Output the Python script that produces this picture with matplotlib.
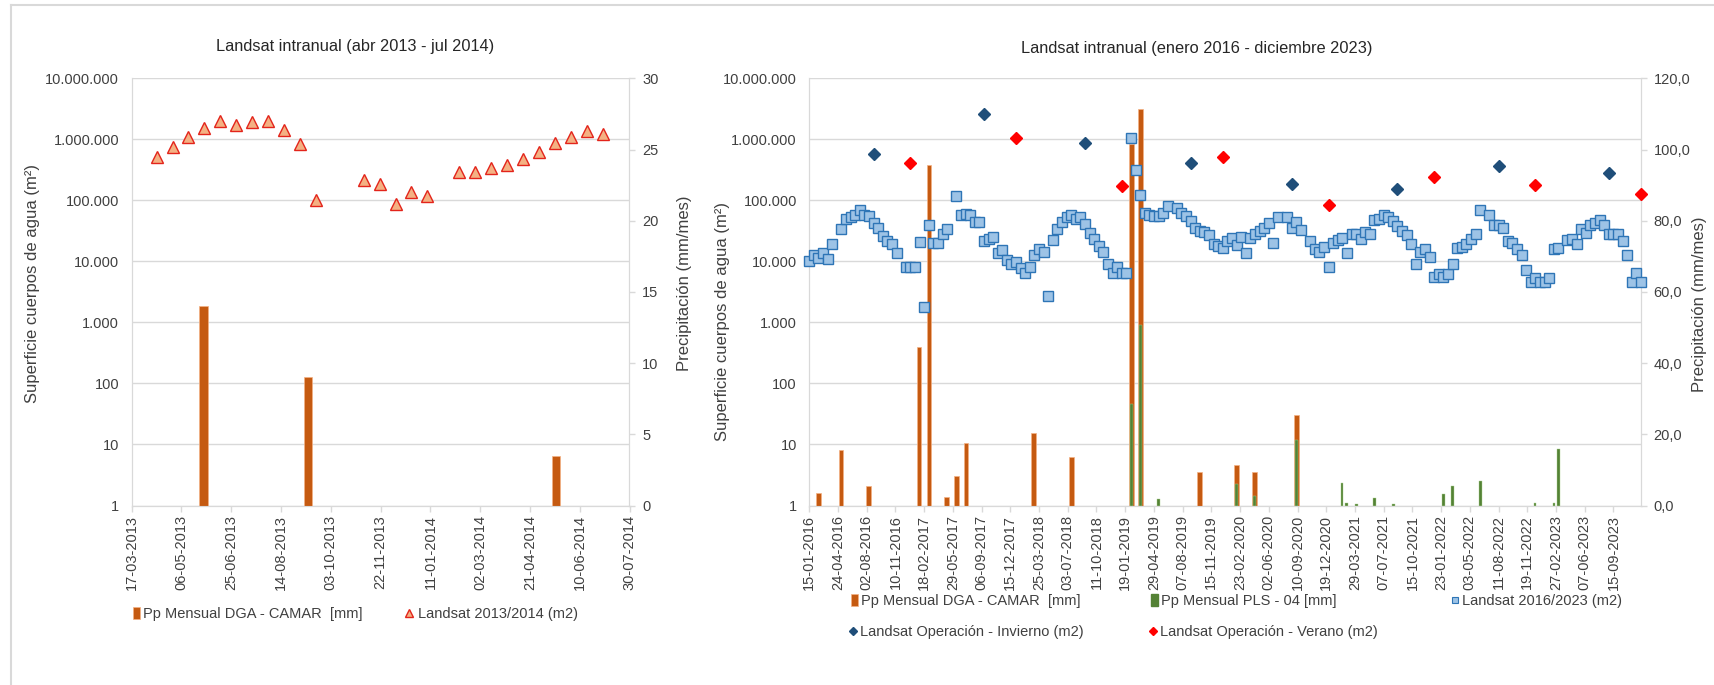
import matplotlib
matplotlib.use("Agg")
import matplotlib.pyplot as plt
import matplotlib.dates as mdates
from matplotlib.patches import Patch
from matplotlib.lines import Line2D
from matplotlib.ticker import FixedLocator, FuncFormatter, NullLocator
import pandas as pd

plt.rcParams['font.family'] = ['Liberation Sans', 'DejaVu Sans']

# ---------------- data : left chart (abr 2013 - jul 2014) ----------------
land13_dates = ['2013-04-11', '2013-04-27', '2013-05-13', '2013-05-29', '2013-06-14', '2013-06-30',
                '2013-07-16', '2013-08-01', '2013-08-17', '2013-09-02', '2013-09-18', '2013-11-05',
                '2013-11-21', '2013-12-07', '2013-12-23', '2014-01-08', '2014-02-09', '2014-02-25',
                '2014-03-13', '2014-03-29', '2014-04-14', '2014-04-30', '2014-05-16', '2014-06-01',
                '2014-06-17', '2014-07-03']
land13_vals = [508000, 736000, 1080000, 1550000, 2000000, 1710000, 1920000, 1960000, 1400000, 828000,
               103000, 212000, 182000, 86700, 136000, 119000, 292000, 292000, 345000, 375000,
               475000, 631000, 871000, 1080000, 1350000, 1240000]
pp13_dates = ['2013-05-28', '2013-09-10', '2014-05-17']
pp13_vals = [14.0, 9.0, 3.5]

# ---------------- data : right chart (enero 2016 - diciembre 2023) ----------------
land_dates = [
    '2016-01-15', '2016-01-31', '2016-02-16', '2016-03-03', '2016-03-19', '2016-04-04', '2016-05-06',
    '2016-05-22', '2016-06-07', '2016-06-23', '2016-07-09', '2016-07-25', '2016-08-10', '2016-08-26',
    '2016-09-11', '2016-09-27', '2016-10-13', '2016-10-29', '2016-11-14', '2016-12-16', '2017-01-01',
    '2017-01-17', '2017-02-02', '2017-02-18', '2017-03-06', '2017-03-22', '2017-04-07', '2017-04-23',
    '2017-05-09', '2017-06-10', '2017-06-26', '2017-07-12', '2017-07-28', '2017-08-13', '2017-08-29',
    '2017-09-14', '2017-09-30', '2017-10-16', '2017-11-01', '2017-11-17', '2017-12-03', '2017-12-19',
    '2018-01-04', '2018-01-20', '2018-02-05', '2018-02-21', '2018-03-09', '2018-03-25', '2018-04-10',
    '2018-04-26', '2018-05-12', '2018-05-28', '2018-06-13', '2018-06-29', '2018-07-15', '2018-07-31',
    '2018-08-16', '2018-09-01', '2018-09-17', '2018-10-03', '2018-10-19', '2018-11-04', '2018-11-20',
    '2018-12-06', '2018-12-22', '2019-01-07', '2019-01-23', '2019-02-08', '2019-02-24', '2019-03-12',
    '2019-03-28', '2019-04-13', '2019-04-29', '2019-05-15', '2019-05-31', '2019-06-16', '2019-07-18',
    '2019-08-03', '2019-08-19', '2019-09-04', '2019-09-20', '2019-10-06', '2019-10-22', '2019-11-07',
    '2019-11-23', '2019-12-09', '2019-12-25', '2020-01-10', '2020-01-26', '2020-02-11', '2020-02-27',
    '2020-03-14', '2020-03-30', '2020-04-15', '2020-05-01', '2020-05-17', '2020-06-02', '2020-06-18',
    '2020-07-04', '2020-08-05', '2020-08-21', '2020-09-06', '2020-09-22', '2020-10-24', '2020-11-09',
    '2020-11-25', '2020-12-11', '2020-12-27', '2021-01-12', '2021-01-28', '2021-02-13', '2021-03-01',
    '2021-03-17', '2021-04-02', '2021-04-18', '2021-05-04', '2021-05-20', '2021-06-05', '2021-06-21',
    '2021-07-07', '2021-07-23', '2021-08-08', '2021-08-24', '2021-09-09', '2021-09-25', '2021-10-11',
    '2021-10-27', '2021-11-12', '2021-11-28', '2021-12-14', '2021-12-30', '2022-01-15', '2022-01-31',
    '2022-02-16', '2022-03-04', '2022-03-20', '2022-04-05', '2022-04-21', '2022-05-07', '2022-05-23',
    '2022-06-08', '2022-07-10', '2022-07-26', '2022-08-11', '2022-08-27', '2022-09-12', '2022-09-28',
    '2022-10-14', '2022-10-30', '2022-11-15', '2022-12-01', '2022-12-17', '2023-01-02', '2023-01-18',
    '2023-02-03', '2023-02-19', '2023-03-07', '2023-04-08', '2023-04-24', '2023-05-10', '2023-05-26',
    '2023-06-11', '2023-06-27', '2023-07-13', '2023-07-29', '2023-08-14', '2023-08-30', '2023-09-15',
    '2023-10-01', '2023-10-17', '2023-11-02', '2023-11-18', '2023-12-04', '2023-12-20']
land_vals = [
    10000, 12500, 11500, 13600, 10900, 19200, 34200,
    49200, 52400, 57200, 70000, 57200, 55800, 42400,
    35500, 26300, 21200, 19200, 13500, 8100, 8100,
    8100, 20900, 1780, 38800, 19700, 19700, 28300,
    33400, 117000, 58600, 60100, 57900, 43400, 43900,
    21700, 23100, 24900, 13600, 15500, 10600, 9100,
    9800, 7900, 6400, 8100, 12500, 16100, 14300,
    2670, 22500, 34500, 43900, 53000, 58600, 49200,
    53000, 40700, 29000, 23100, 18200, 14000, 9100,
    6400, 8100, 6400, 6400, 1050000, 319000, 122000,
    61700, 57000, 55800, 55800, 61700, 80400, 75400,
    63200, 55700, 46700, 35500, 31300, 29800, 26900,
    19200, 18200, 16500, 21200, 23800, 18500, 25300,
    13600, 24300, 28300, 31700, 35100, 42400, 19900,
    53100, 53100, 35100, 43400, 32900, 21200, 15700,
    14500, 17300, 8050, 19900, 22600, 24000, 13600,
    28300, 28300, 22900, 30100, 28300, 48000, 49800,
    57100, 54300, 46700, 38700, 30900, 27200, 19200,
    9100, 14400, 15900, 11600, 5460, 6270, 5460,
    6270, 9100, 16300, 17300, 19200, 23700, 27600,
    70800, 57900, 39800, 38800, 34600, 21200, 19900,
    15900, 12700, 7300, 4520, 5390, 4520, 4520,
    5390, 15700, 16300, 22000, 23200, 19200, 33700,
    29000, 39800, 42900, 47400, 39800, 27600, 27600,
    28300, 21700, 12700, 4520, 6430, 4520]

inv_dates = ['2016-08-26', '2017-09-14', '2018-09-01', '2019-09-04', '2020-08-21', '2021-08-24',
             '2022-08-11', '2023-08-30']
inv_vals = [577000, 2610000, 871000, 405000, 188000, 156000, 362000, 282000]
ver_dates = ['2017-01-01', '2018-01-04', '2019-01-07', '2019-12-25', '2020-12-27', '2021-12-30',
             '2022-12-17', '2023-12-20']
ver_vals = [416000, 1050000, 173000, 508000, 84000, 237000, 177000, 128000]

dga_dates = ['2016-02-15', '2016-05-05', '2016-08-09', '2017-01-31', '2017-03-07', '2017-05-07',
             '2017-06-10', '2017-07-13', '2018-03-06', '2018-07-15', '2019-02-09', '2019-03-13',
             '2019-10-05', '2020-02-11', '2020-04-13', '2020-09-06']
dga_vals = [3.6, 15.5, 5.6, 44.5, 95.6, 2.4, 8.4, 17.6, 20.4, 13.6, 101.5, 111.5, 9.5, 11.5, 9.5, 25.5]
pls_dates = ['2019-02-09', '2019-03-13', '2019-05-15', '2020-02-11', '2020-04-13', '2020-09-06',
             '2021-02-12', '2021-03-01', '2021-04-03', '2021-06-04', '2021-08-10', '2022-02-01',
             '2022-03-03', '2022-06-08', '2022-12-16', '2023-02-20', '2023-03-08']
pls_vals = [28.6, 50.6, 1.9, 5.9, 2.7, 18.3, 6.4, 0.65, 0.5, 2.2, 0.5, 3.1, 5.4, 6.8, 0.65, 0.65, 15.9]

title_left = 'Landsat intranual (abr 2013 - jul 2014)'
title_right = 'Landsat intranual (enero 2016 - diciembre 2023)'
ylab_left = 'Superficie cuerpos de agua (m²)'
ylab_right = 'Precipitación (mm/mes)'

# ---------------- styling ----------------
W, H = 1714, 685
TXT = '#404040'
GRID = '#D9D9D9'
ORANGE = '#C55A11'
ORANGE_E = '#F4B183'
GREEN = '#548235'
SQ_FACE = '#9DC3E6'
SQ_EDGE = '#2E75B6'
NAVY = '#1F4E79'
RED = '#FF0000'
FS = 10.5
FS_LAB = 12
FS_TITLE = 11.8

fig = plt.figure(figsize=(W / 100, H / 100), dpi=100)


def num(dates):
    return mdates.date2num(pd.to_datetime(dates).to_pydatetime())


def rect(x0, x1, ytop=78.3, ybot=505.5):
    return [x0 / W, 1 - ybot / H, (x1 - x0) / W, (ybot - ytop) / H]


def thousands(v, pos=None):
    return f"{int(round(v)):,}".replace(",", ".")


def make_panel(r, xmin, xmax, xticks, rmax, rticks, rfmt, ylab_pos_l, ylab_pos_r):
    axg = fig.add_axes(r)
    axg.set_yscale('log')
    axg.set_ylim(1, 1e7)
    axg.set_xlim(xmin, xmax)
    axg.yaxis.set_major_locator(FixedLocator([10.0 ** i for i in range(8)]))
    axg.yaxis.set_minor_locator(NullLocator())
    axg.yaxis.set_major_formatter(FuncFormatter(thousands))
    axg.grid(axis='y', color=GRID, lw=1.0)
    axg.set_axisbelow(True)
    axg.xaxis.set_major_locator(FixedLocator(xticks))
    axg.xaxis.set_minor_locator(NullLocator())
    axg.xaxis.set_major_formatter(mdates.DateFormatter('%d-%m-%Y'))
    axg.tick_params(axis='y', length=0, pad=9, labelsize=FS, labelcolor=TXT)
    axg.tick_params(axis='x', length=4, width=1, color=GRID, pad=3, labelsize=FS,
                    labelcolor=TXT, labelrotation=90)
    for s in ['left', 'bottom', 'right', 'top']:
        axg.spines[s].set_color(GRID)
    axg.spines['top'].set_visible(False)
    axg.set_ylabel(ylab_left, fontsize=FS_LAB, color=TXT)
    axg.yaxis.set_label_coords(*ylab_pos_l)

    axb = axg.twinx()
    axb.set_ylim(0, rmax)
    axb.yaxis.set_major_locator(FixedLocator(rticks))
    axb.yaxis.set_major_formatter(FuncFormatter(rfmt))
    axb.tick_params(axis='y', length=4, width=1, color=GRID, pad=5, labelsize=FS, labelcolor=TXT)
    for s in ['left', 'bottom', 'right', 'top']:
        axb.spines[s].set_color(GRID)
    axb.spines['top'].set_visible(False)
    axb.set_ylabel(ylab_right, fontsize=FS_LAB, color=TXT)
    axb.yaxis.set_label_coords(*ylab_pos_r)

    axp = fig.add_axes(r, sharex=axg, sharey=axg)
    axp.patch.set_visible(False)
    axp.axis('off')
    return axg, axb, axp


# ---------------- left panel ----------------
lx0, lx1 = 131.7, 629.5
l_start = pd.Timestamp('2013-03-17')
l_ticks = num(pd.date_range(l_start, periods=11, freq='50D'))
axg1, axb1, axp1 = make_panel(rect(lx0, lx1), num(['2013-03-17'])[0], num(['2014-07-30'])[0], l_ticks,
                              30, list(range(0, 31, 5)), lambda v, p: f"{int(v)}",
                              ((40 - lx0) / (lx1 - lx0), 0.52), ((677 - lx0) / (lx1 - lx0), 0.52))
axb1.bar(num(pp13_dates), pp13_vals, width=8.5, color=ORANGE, edgecolor=ORANGE_E, linewidth=0.5)
axp1.plot(num(land13_dates), land13_vals, ls='none', marker='^', ms=8, mfc='#F4B183', mec='#E3241B',
          mew=1.0, clip_on=False)

# ---------------- right panel ----------------
rx0, rx1 = 809.3, 1641.0
r_ticks = num(pd.date_range(pd.Timestamp('2016-01-15'), periods=29, freq='100D'))
axg2, axb2, axp2 = make_panel(rect(rx0, rx1), num(['2016-01-15'])[0], num(['2023-12-20'])[0], r_ticks,
                              120, list(range(0, 121, 20)), lambda v, p: f"{v:.1f}".replace('.', ','),
                              ((730 - rx0) / (rx1 - rx0), 0.43), ((1692 - rx0) / (rx1 - rx0), 0.47))
axb2.bar(num(dga_dates), dga_vals, width=16, color=ORANGE, edgecolor=ORANGE_E, linewidth=0.5)
axb2.bar(num(pls_dates), pls_vals, width=10, color=GREEN, edgecolor='#A9D18E', linewidth=0.3)
axp2.plot(num(land_dates), land_vals, ls='none', marker='s', ms=7, mfc=SQ_FACE, mec=SQ_EDGE,
          mew=1.0, clip_on=False)
axp2.plot(num(inv_dates), inv_vals, ls='none', marker='D', ms=6.5, mfc=NAVY, mec=NAVY, clip_on=False)
axp2.plot(num(ver_dates), ver_vals, ls='none', marker='D', ms=6.5, mfc=RED, mec=RED, clip_on=False)

# ---------------- titles ----------------
fig.text(355.5 / W, 1 - 47 / H, title_left, ha='center', va='center', fontsize=FS_TITLE, color='#262626')
fig.text(1197 / W, 1 - 49 / H, title_right, ha='center', va='center', fontsize=FS_TITLE, color='#262626')

# ---------------- legends ----------------
def leg(handle, label, x, y, hl=0.6, hh=0.8):
    fig.legend([handle], [label], loc='center left', bbox_to_anchor=(x / W, 1 - y / H),
               frameon=False, fontsize=FS, handlelength=hl, handleheight=hh, handletextpad=0.25,
               borderpad=0, borderaxespad=0, labelcolor=TXT)


h_dga = Patch(facecolor=ORANGE, edgecolor=ORANGE_E, linewidth=0.5)
h_pls = Patch(facecolor=GREEN, edgecolor=GREEN)
h_tri = Line2D([], [], ls='none', marker='^', ms=6, mfc='#F4B183', mec='#E3241B', mew=1.0)
h_sq = Line2D([], [], ls='none', marker='s', ms=5, mfc=SQ_FACE, mec=SQ_EDGE, mew=0.8)
h_inv = Line2D([], [], ls='none', marker='D', ms=4.5, mfc=NAVY, mec=NAVY)
h_ver = Line2D([], [], ls='none', marker='D', ms=4.5, mfc=RED, mec=RED)

leg(h_dga, 'Pp Mensual DGA - CAMAR  [mm]', 133, 614, hl=0.45)
leg(h_tri, 'Landsat 2013/2014 (m2)', 404, 614, hl=0.7)
leg(h_dga, 'Pp Mensual DGA - CAMAR  [mm]', 851, 601, hl=0.45)
leg(h_pls, 'Pp Mensual PLS - 04 [mm]', 1151, 601, hl=0.45)
leg(h_sq, 'Landsat 2016/2023 (m2)', 1451, 601, hl=0.5)
leg(h_inv, 'Landsat Operación - Invierno (m2)', 849, 632, hl=0.5)
leg(h_ver, 'Landsat Operación - Verano (m2)', 1149, 632, hl=0.5)

# ---------------- frame ----------------
fig.add_artist(Line2D([11 / W, 11 / W], [0, 1 - 5 / H], transform=fig.transFigure, color='#D9D9D9', lw=1.5))
fig.add_artist(Line2D([11 / W, 1], [1 - 5 / H, 1 - 5 / H], transform=fig.transFigure, color='#D9D9D9', lw=1.5))

fig.savefig('out.png', dpi=100)
